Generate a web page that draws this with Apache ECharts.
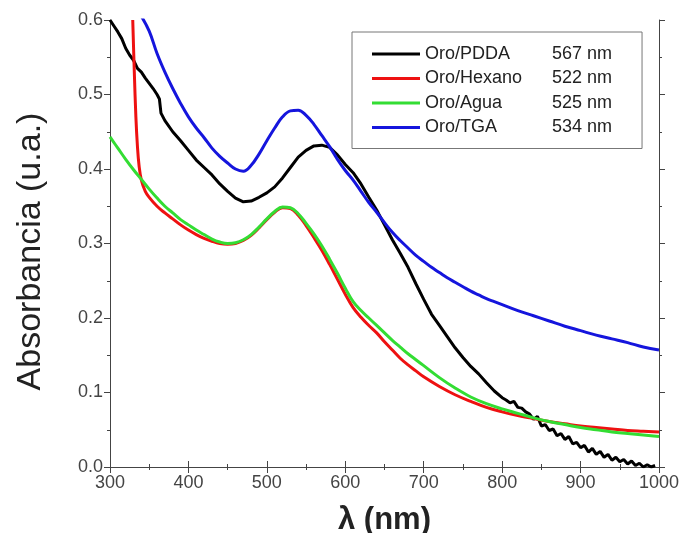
<!DOCTYPE html>
<html>
<head>
<meta charset="utf-8">
<script src="https://cdn.jsdelivr.net/npm/echarts@6/dist/echarts.min.js"></script>
<style>
  html, body { margin: 0; padding: 0; background: #fff; }
  #chart { width: 683px; height: 533px; }
</style>
</head>
<body>
<div id="chart"></div>
<script>
// Oro/PDDA (negro)
const pddaX = [300, 305, 310, 315, 320, 325, 330, 335, 340, 345, 350, 355, 360, 363, 365, 370,
  380, 390, 400, 410, 420, 430, 440, 450, 460, 470, 480, 490, 500, 510, 520, 530, 540, 550,
  560, 570, 580, 590, 600, 610, 620, 630, 640, 650, 660, 670, 680, 690, 700, 710, 720, 730,
  740, 750, 760, 770, 780, 790, 800, 805, 810, 815, 820, 825, 830, 835, 840, 845, 850, 855,
  860, 865, 870, 875, 880, 885, 890, 895, 900, 905, 910, 915, 920, 925, 930, 935, 940, 945,
  950, 955, 960, 965, 970, 975, 980, 985, 990, 995];
const pddaY = [0.600, 0.592, 0.584, 0.575, 0.562, 0.553, 0.546, 0.535, 0.530, 0.522, 0.515, 0.508, 0.500, 0.494, 0.475, 0.465,
  0.450, 0.438, 0.425, 0.412, 0.402, 0.392, 0.380, 0.370, 0.361, 0.356, 0.357, 0.362, 0.368, 0.376, 0.388, 0.402, 0.416, 0.425,
  0.431, 0.432, 0.429, 0.419, 0.406, 0.395, 0.380, 0.362, 0.345, 0.325, 0.305, 0.287, 0.268, 0.246, 0.225, 0.205, 0.190, 0.175,
  0.160, 0.147, 0.135, 0.125, 0.113, 0.102, 0.093, 0.090, 0.086, 0.088, 0.080, 0.079, 0.074, 0.071, 0.064, 0.068, 0.055, 0.057,
  0.049, 0.051, 0.042, 0.045, 0.037, 0.041, 0.031, 0.033, 0.026, 0.029, 0.020, 0.025, 0.017, 0.021, 0.013, 0.017, 0.009, 0.013,
  0.007, 0.010, 0.004, 0.008, 0.002, 0.005, 0.000, 0.003, 0.000, 0.002];

// Oro/Hexano (rojo)
const hexX = [329, 331, 333, 335, 337, 340, 345, 350, 360, 370, 380, 390, 400, 410, 420, 430, 440, 450,
  460, 470, 480, 490, 500, 510, 520, 530, 540, 550, 560, 570, 580, 590, 600, 610, 620, 630, 640, 650,
  660, 670, 680, 690, 700, 720, 740, 760, 780, 800, 820, 840, 860, 880, 900, 920, 940, 960, 980, 1000];
const hexY = [0.600, 0.530, 0.470, 0.430, 0.405, 0.385, 0.370, 0.362, 0.350, 0.341, 0.333, 0.325, 0.318, 0.312, 0.307, 0.303, 0.300, 0.299,
  0.300, 0.304, 0.311, 0.321, 0.332, 0.342, 0.348, 0.347, 0.338, 0.324, 0.308, 0.291, 0.272, 0.252, 0.232, 0.214, 0.201, 0.190, 0.180, 0.168,
  0.157, 0.146, 0.137, 0.129, 0.121, 0.108, 0.097, 0.088, 0.080, 0.074, 0.069, 0.065, 0.061, 0.058, 0.055, 0.053, 0.051, 0.049, 0.048, 0.047];

// Oro/Agua (verde)
const aguaX = [300, 310, 320, 330, 340, 350, 360, 370, 380, 390, 400, 410, 420, 430, 440, 450, 460, 470,
  480, 490, 500, 510, 520, 530, 540, 550, 560, 570, 580, 590, 600, 610, 620, 630, 640, 650, 660, 670,
  680, 690, 700, 720, 740, 760, 780, 800, 820, 840, 860, 880, 900, 920, 940, 960, 980, 1000];
const aguaY = [0.443, 0.428, 0.413, 0.399, 0.386, 0.373, 0.361, 0.350, 0.341, 0.332, 0.325, 0.318, 0.312, 0.306, 0.302, 0.300, 0.301, 0.305,
  0.312, 0.322, 0.333, 0.343, 0.349, 0.348, 0.340, 0.327, 0.313, 0.297, 0.279, 0.260, 0.240, 0.222, 0.210, 0.200, 0.190, 0.180, 0.170, 0.161,
  0.152, 0.144, 0.136, 0.120, 0.106, 0.094, 0.085, 0.078, 0.072, 0.066, 0.061, 0.057, 0.053, 0.050, 0.047, 0.045, 0.043, 0.041];

// Oro/TGA (azul)
const tgaX = [340, 350, 360, 370, 380, 390, 400, 410, 420, 430, 440, 450, 460, 470, 480, 490, 500, 510,
  520, 530, 540, 550, 560, 570, 580, 590, 600, 610, 620, 630, 640, 650, 660, 670, 680, 690, 700, 710,
  720, 730, 740, 750, 760, 770, 780, 790, 800, 820, 840, 860, 880, 900, 920, 940, 960, 980, 1000];
const tgaY = [0.605, 0.585, 0.555, 0.530, 0.508, 0.488, 0.470, 0.455, 0.442, 0.428, 0.417, 0.408, 0.400, 0.397, 0.405, 0.420, 0.438, 0.455,
  0.470, 0.478, 0.479, 0.472, 0.460, 0.445, 0.430, 0.413, 0.398, 0.385, 0.370, 0.355, 0.342, 0.328, 0.315, 0.304, 0.294, 0.284, 0.276, 0.268,
  0.261, 0.254, 0.248, 0.242, 0.236, 0.231, 0.226, 0.222, 0.218, 0.210, 0.203, 0.196, 0.189, 0.183, 0.177, 0.172, 0.167, 0.161, 0.157];

const seriesNames = ["Oro/PDDA", "Oro/Hexano", "Oro/Agua", "Oro/TGA"];
const peaks = ["567 nm", "522 nm", "525 nm", "534 nm"];
const colors = ["#000000", "#ee1111", "#33dd33", "#1515dd"];

const xTicks = { min: 300, max: 1000, interval: 100 };
const yTicks = { min: 0, max: 0.6, interval: 0.1 };

function pairs(xs, ys) {
  return xs.map((x, i) => [x, ys[i]]);
}

const font = "Arial, 'Liberation Sans', sans-serif";
const axisCommon = {
  type: "value",
  axisLine: { show: true, lineStyle: { color: "#444", width: 1 } },
  axisTick: { show: true, length: 6, lineStyle: { color: "#444" } },
  minorTick: { show: true, splitNumber: 2, length: 3, lineStyle: { color: "#444" } },
  splitLine: { show: false },
};

const chart = echarts.init(document.getElementById("chart"));
chart.setOption({
  animation: false,
  backgroundColor: "#fff",
  grid: { left: 110, right: 24, top: 20, bottom: 66, containLabel: false, outerBoundsMode: "none" },
  legend: {
    orient: "vertical",
    left: 352,
    top: 32,
    padding: [13, 30, 12, 20],
    itemGap: 6.5,
    itemWidth: 48,
    itemHeight: 3,
    icon: "rect",
    borderColor: "#777",
    borderWidth: 1,
    data: seriesNames,
    formatter: (name) => "{a|" + name + "}{b|" + peaks[seriesNames.indexOf(name)] + "}",
    textStyle: {
      fontFamily: font,
      fontSize: 18,
      color: "#222",
      rich: {
        a: { width: 127, fontSize: 18, fontFamily: font, color: "#222" },
        b: { width: 70, fontSize: 18, fontFamily: font, color: "#222" },
      },
    },
  },
  xAxis: [
    Object.assign({}, axisCommon, xTicks, {
      position: "bottom",
      name: "λ (nm)",
      nameLocation: "middle",
      nameGap: 38,
      nameTextStyle: { fontFamily: font, fontSize: 31, fontWeight: "bold", color: "#222" },
      axisLabel: { fontFamily: font, fontSize: 18, color: "#444", margin: 7, formatter: (v) => String(v) },
    }),
    Object.assign({}, axisCommon, xTicks, {
      position: "top",
      axisLabel: { show: false },
    }),
  ],
  yAxis: [
    Object.assign({}, axisCommon, yTicks, {
      position: "left",
      name: "Absorbancia (u.a.)",
      nameLocation: "middle",
      nameGap: 62,
      nameTextStyle: { fontFamily: font, fontSize: 34, color: "#222", padding: [0, 16, 0, 0] },
      axisLabel: {
        fontFamily: font, fontSize: 18, color: "#444", margin: 7,
        formatter: (v) => v.toFixed(1),
      },
    }),
    Object.assign({}, axisCommon, yTicks, {
      position: "right",
      axisLabel: { show: false },
    }),
  ],
  series: [
    { name: seriesNames[0], data: pairs(pddaX, pddaY), color: colors[0], smooth: false },
    { name: seriesNames[1], data: pairs(hexX, hexY), color: colors[1], smooth: 0.4 },
    { name: seriesNames[2], data: pairs(aguaX, aguaY), color: colors[2], smooth: 0.4 },
    { name: seriesNames[3], data: pairs(tgaX, tgaY), color: colors[3], smooth: 0.4 },
  ].map((s) => Object.assign({
    type: "line",
    showSymbol: false,
    clip: true,
    lineStyle: { width: 3, color: s.color },
    itemStyle: { color: s.color },
  }, s)),
});
</script>
</body>
</html>
